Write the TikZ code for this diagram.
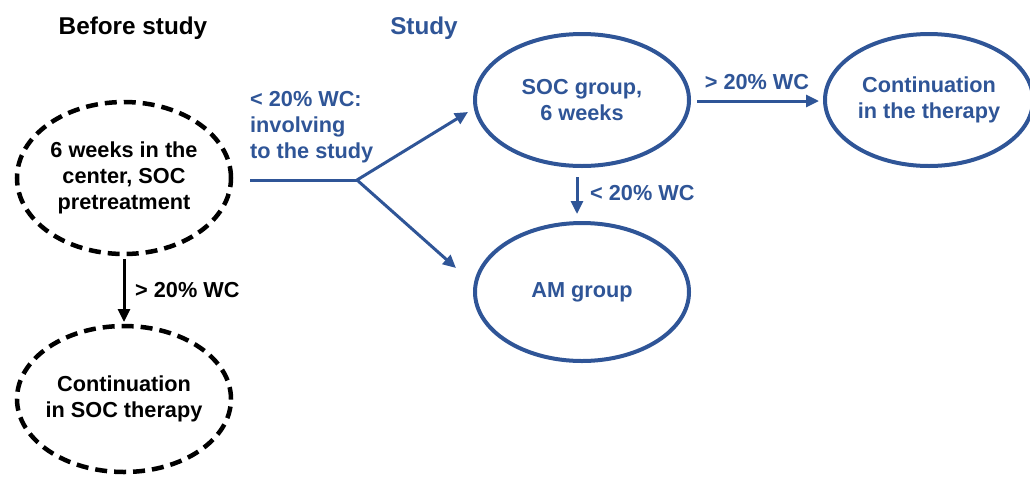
\documentclass[tikz,border=0pt]{standalone}
\usepackage{fontspec}
\setmainfont{Liberation Sans}
\usetikzlibrary{shapes.geometric,arrows.meta}
\definecolor{sblue}{RGB}{47,85,151}
\begin{document}
\begin{tikzpicture}[x=1pt,y=-1pt,
  txt/.style={font=\fontsize{21.7}{26}\selectfont\bfseries, align=center, inner sep=0pt},
  head/.style={font=\fontsize{24.3}{28}\selectfont\bfseries, inner sep=0pt},
  dashell/.style={ellipse, draw=black, line width=4.5pt, dash pattern=on 12pt off 7pt, txt, inner sep=-40pt},
  blueell/.style={ellipse, draw=sblue, line width=4pt, txt, text=sblue, inner sep=-40pt},
  barrow/.style={draw=sblue, line width=3pt, -{Triangle[length=13pt,width=12pt]}},
  karrow/.style={draw=black, line width=3pt, -{Triangle[length=13pt,width=12pt]}}
]
\useasboundingbox (0,0) rectangle (1030,483);
\node[head] (hbefore) at (133,28) {Before study};
\node[head, text=sblue] (hstudy) at (424,28) {Study};

\node[dashell, minimum width=214pt, minimum height=152pt] (pre) at (124,178) {6 weeks in the\\center, SOC\\pretreatment};
\node[dashell, minimum width=214pt, minimum height=146pt] (cont) at (124,399) {Continuation\\in SOC therapy};

\node[blueell, minimum width=214pt, minimum height=132pt] (soc) at (582,100) {SOC group,\\6 weeks};
\node[blueell, minimum width=214pt, minimum height=138pt] (am) at (582,292) {AM group};
\node[blueell, minimum width=208pt, minimum height=132pt] (ther) at (929,100) {Continuation\\in the therapy};

% left black arrow
\coordinate (k1) at (124,259);
\coordinate (k2) at (124,322);
\draw[karrow] (k1) -- (k2);
\node[txt, anchor=west] (lk) at (135,290) {> 20\% WC};

% involving
\node[txt, text=sblue, align=left, anchor=west] (inv) at (250,127) {< 20\% WC:\\involving\\to the study};
\coordinate (s0) at (250,180);
\coordinate (fork) at (357,180);
\coordinate (e1) at (468,112);
\coordinate (e2) at (456,268);
\draw[draw=sblue, line width=3pt] (s0) -- (fork);
\draw[barrow] (fork) -- (e1);
\draw[barrow] (fork) -- (e2);

% SOC -> therapy
\coordinate (a1) at (697,101);
\coordinate (a2) at (819,101);
\draw[barrow] (a1) -- (a2);
\node[txt, text=sblue] (la) at (757,82) {> 20\% WC};

% SOC -> AM
\coordinate (b1) at (577,177);
\coordinate (b2) at (577,214);
\draw[barrow] (b1) -- (b2);
\node[txt, text=sblue, anchor=west] (lb) at (590,193) {< 20\% WC};
\end{tikzpicture}
\end{document}
